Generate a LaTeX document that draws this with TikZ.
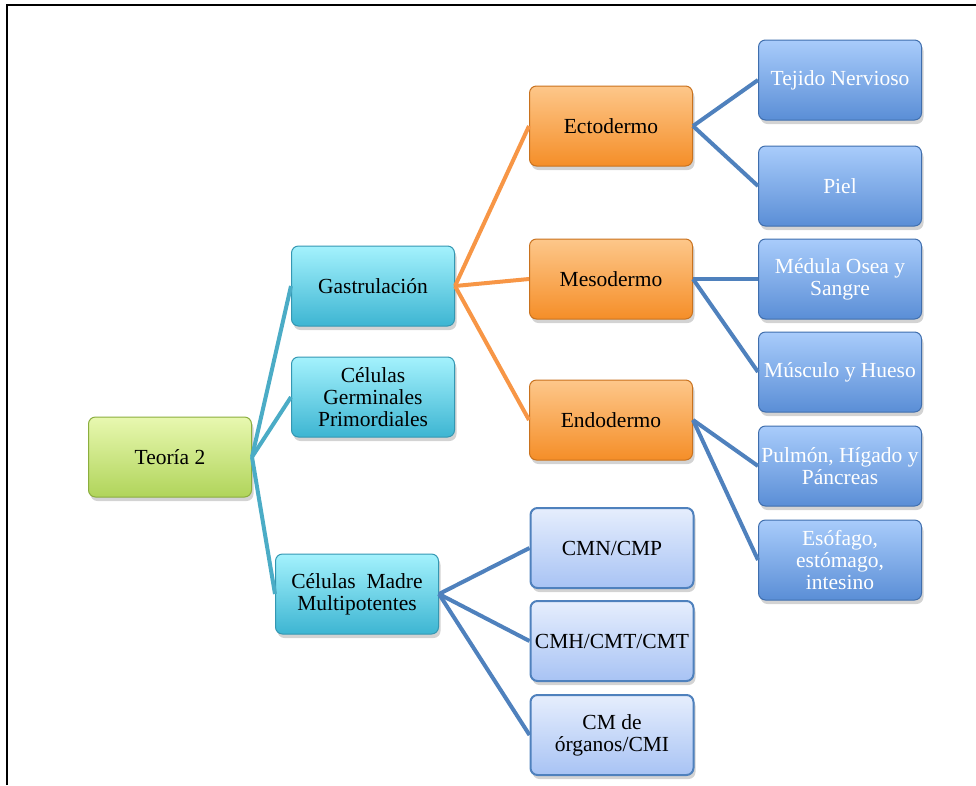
\documentclass[tikz,border=0pt]{standalone}
\usepackage{fontspec}
\setmainfont{Liberation Serif}
\usetikzlibrary{shadows}
\definecolor{tealline}{HTML}{4BACC6}
\definecolor{orangeline}{HTML}{F79646}
\definecolor{blueline}{HTML}{4F81BD}
\definecolor{grtop}{HTML}{E8F8B0}
\definecolor{grbot}{HTML}{B0D45A}
\definecolor{grbd}{HTML}{8BAE3E}
\definecolor{cytop}{HTML}{A4F2FD}
\definecolor{cybot}{HTML}{3DB5D2}
\definecolor{cybd}{HTML}{3497B2}
\definecolor{ortop}{HTML}{FDC78A}
\definecolor{orbot}{HTML}{F58E28}
\definecolor{orbd}{HTML}{C9721E}
\definecolor{bltop}{HTML}{A9CCFB}
\definecolor{blbot}{HTML}{5A8ED6}
\definecolor{blbd}{HTML}{3F6EAD}
\definecolor{lbtop}{HTML}{E6EEFD}
\definecolor{lbbot}{HTML}{A8C3F4}
\tikzset{
  x=1pt, y=-1pt,
  box/.style={minimum width=163pt, minimum height=80pt, align=center,
    rounded corners=7pt, inner sep=2pt, line width=1pt,
    font=\fontsize{21.5}{22}\selectfont,
    drop shadow={shadow xshift=2pt, shadow yshift=-4pt, opacity=0.35}},
  greenbox/.style={box, draw=grbd, top color=grtop, bottom color=grbot, text=black},
  cyanbox/.style={box, draw=cybd, top color=cytop, bottom color=cybot, text=black},
  orangebox/.style={box, draw=orbd, top color=ortop, bottom color=orbot, text=black},
  bluebox/.style={box, draw=blbd, top color=bltop, bottom color=blbot, text=white},
  lightbox/.style={box, draw=blueline, line width=2pt, top color=lbtop, bottom color=lbbot, text=black},
  tealcon/.style={draw=tealline, line width=4pt},
  orangecon/.style={draw=orangeline, line width=4pt},
  bluecon/.style={draw=blueline, line width=4pt},
  frame/.style={draw=black, line width=2pt}
}
\begin{document}
\begin{tikzpicture}
\useasboundingbox (0,0) rectangle (976,785);
\coordinate (fl) at (7,785);
\coordinate (ftl) at (7,5);
\coordinate (ftr) at (976,5);
\draw[frame] (fl) -- (ftl) -- (ftr);

\node[greenbox] (t2) at (170,457) {Teoría 2};
\node[cyanbox] (gas) at (373,286) {Gastrulación};
\node[cyanbox] (cgp) at (373,397) {Células\\Germinales\\Primordiales};
\node[cyanbox] (cmm) at (357,594) {Células~ Madre\\Multipotentes};
\node[orangebox] (ecto) at (611,126) {Ectodermo};
\node[orangebox] (meso) at (611,279) {Mesodermo};
\node[orangebox] (endo) at (611,420) {Endodermo};
\node[bluebox] (tej) at (840,80) {Tejido Nervioso};
\node[bluebox] (piel) at (840,186) {Piel};
\node[bluebox] (med) at (840,279) {Médula Osea y\\Sangre};
\node[bluebox] (mus) at (840,372) {Músculo y Hueso};
\node[bluebox] (pul) at (840,466) {Pulmón, Hígado y\\Páncreas};
\node[bluebox] (eso) at (840,560) {Esófago,\\estómago,\\intesino};
\node[lightbox] (cmn) at (612,548) {CMN/CMP};
\node[lightbox] (cmh) at (612,641) {CMH/CMT/CMT};
\node[lightbox] (cmo) at (612,735) {CM de\\órganos/CMI};

\draw[tealcon] (t2.east) -- (gas.west);
\draw[tealcon] (t2.east) -- (cgp.west);
\draw[tealcon] (t2.east) -- (cmm.west);
\draw[orangecon] (gas.east) -- (ecto.west);
\draw[orangecon] (gas.east) -- (meso.west);
\draw[orangecon] (gas.east) -- (endo.west);
\draw[bluecon] (ecto.east) -- (tej.west);
\draw[bluecon] (ecto.east) -- (piel.west);
\draw[bluecon] (meso.east) -- (med.west);
\draw[bluecon] (meso.east) -- (mus.west);
\draw[bluecon] (endo.east) -- (pul.west);
\draw[bluecon] (endo.east) -- (eso.west);
\draw[bluecon] (cmm.east) -- (cmn.west);
\draw[bluecon] (cmm.east) -- (cmh.west);
\draw[bluecon] (cmm.east) -- (cmo.west);
\end{tikzpicture}
\end{document}
